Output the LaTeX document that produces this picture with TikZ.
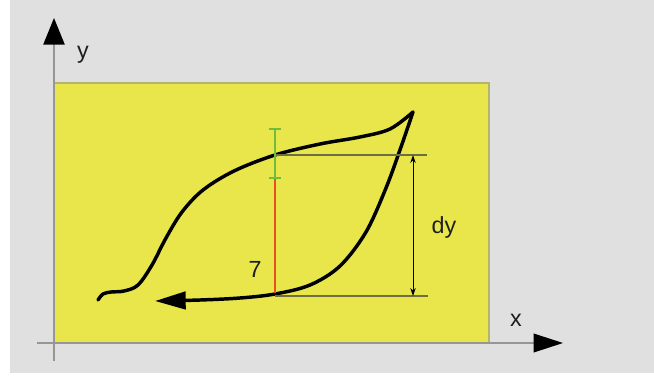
\documentclass[tikz,border=0pt]{standalone}
\usepackage{fontspec}
\setmainfont{Liberation Sans}
\usetikzlibrary{arrows.meta}

\begin{document}
\begin{tikzpicture}[x=0.75pt,y=0.75pt,yscale=-1,xscale=1,
  axisline/.style={color={rgb, 255:red, 150; green, 150; blue, 150 },line width=1.1},
  curveline/.style={line width=2.6,line cap=round,line join=round},
  guideline/.style={color={rgb, 255:red, 110; green, 110; blue, 70 },line width=0.8},
  lbl/.style={font=\fontsize{17.5}{20}\selectfont,color={rgb, 255:red, 30; green, 30; blue, 30 }}]
\useasboundingbox (0,0) rectangle (654,383);

%Shape: Rectangle [background]
\fill [fill={rgb, 255:red, 224; green, 224; blue, 224 }] (10,0) rectangle (654,373);
%Shape: Rectangle [plot area]
\draw [fill={rgb, 255:red, 232; green, 230; blue, 74 },draw={rgb, 255:red, 180; green, 180; blue, 110 },line width=0.8] (54,83) rectangle (489,343);

%Straight Lines [axes]
\coordinate (ybot) at (54,361);
\coordinate (ytop) at (54,18);
\coordinate (xleft) at (37,343);
\coordinate (xright) at (563,343);
\draw [axisline,-{Triangle[length=20pt,width=16pt,color=black]}] (ybot) -- (ytop);
\draw [axisline,-{Triangle[length=22pt,width=14pt,color=black]}] (xleft) -- (xright);

%Curve Lines [upper branch]
\draw [curveline] plot [smooth,tension=0.55] coordinates {(98,300) (103,294) (111,292) (124,291) (138,285) (152,265) (166,238) (182,212) (203,190) (234,171) (275,155) (320,144) (360,137) (390,129) (413,112)};
%Curve Lines [lower branch]
\coordinate (tipcurve) at (413,112);
\draw [curveline,-{Triangle[length=23pt,width=13pt]}] plot [smooth,tension=0.55] coordinates {(413,112) (401,147) (386,188) (366,232) (340,266) (310,285) (275,294) (240,298) (200,300) (155,301)};

%Straight Lines [guides]
\coordinate (uppera) at (275,155);
\coordinate (upperb) at (427,155);
\coordinate (lowera) at (275,296);
\coordinate (lowerb) at (428,296);
\draw [guideline] (uppera) -- (upperb);
\draw [guideline] (lowera) -- (lowerb);
%Straight Lines [dy]
\coordinate (dytop) at (413,155);
\coordinate (dybot) at (413,296);
\draw [color=black,line width=0.7,{Stealth[length=6pt,width=4pt]}-{Stealth[length=6pt,width=4pt]}] (dytop) -- (dybot);

%Straight Lines [green bar]
\coordinate (gtop) at (275,128);
\coordinate (gbot) at (275,179);
\coordinate (rbot) at (275,293);
\draw [color={rgb, 255:red, 110; green, 190; blue, 60 },line width=1.5,|-|] (gtop) -- (gbot);
%Straight Lines [red bar]
\draw [color={rgb, 255:red, 232; green, 80; blue, 30 },line width=1.6] (gbot) -- (rbot);

% Text Node
\node [lbl] (ylbl) at (83,55) {y};
% Text Node
\node [lbl] (xlbl) at (516,320) {x};
% Text Node
\node [lbl] (dylbl) at (444,227) {dy};
% Text Node
\node [lbl] (sevenlbl) at (255,269) {7};

\end{tikzpicture}
\end{document}
